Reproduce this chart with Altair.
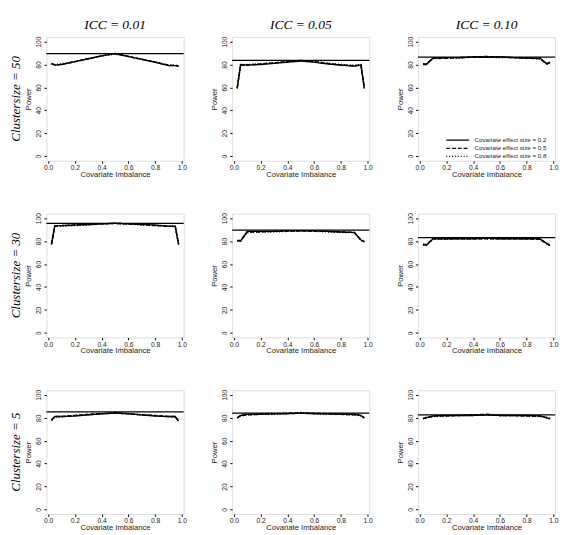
import altair as alt
import pandas as pd

X = [0.025, 0.05, 0.1, 0.2, 0.3, 0.4, 0.5, 0.6, 0.7, 0.8, 0.9, 0.95, 0.975]
EFFECTS = ["Covariate effect size = 0.2", "Covariate effect size = 0.5", "Covariate effect size = 0.8"]
ICC_LABELS = ["ICC = 0.01", "ICC = 0.05", "ICC = 0.10"]
CS_LABELS = ["Clustersize = 50", "Clustersize = 30", "Clustersize = 5"]

# power curves per panel: (cluster size row, icc column) -> [es0.2, es0.5, es0.8]
P11 = [[81, 79.5, 80, 82.5, 85, 87.5, 89.5, 87, 84.5, 82, 79, 79, 79],
       [80.5, 79.5, 80, 82.5, 85, 87.5, 89.5, 87, 84.5, 82, 79.5, 79, 78.5],
       [80.5, 80, 80.5, 82.5, 85, 87.5, 89, 87, 84.5, 82, 79.5, 79.5, 79]]
P12 = [[59, 79.5, 79.5, 80, 81, 82, 83, 82, 80.5, 79.5, 78.5, 79.5, 59],
       [59.5, 79.5, 79.5, 80.5, 81.5, 82.5, 83.5, 82.5, 81, 79.5, 79, 79.5, 59.5],
       [60, 80, 80, 80.5, 81.5, 82.5, 83.5, 82.5, 81, 80, 79, 80, 60]]
P13 = [[80, 80, 85.5, 86, 86, 86.5, 86.5, 86.5, 86, 85.5, 85.5, 80.5, 82],
       [80.5, 80.5, 85.5, 85.5, 86, 86.5, 87, 86.5, 86, 85.5, 85, 80.5, 81.5],
       [80.5, 80.5, 85, 85.5, 85.5, 86.5, 86.5, 86, 86, 85.5, 85, 81, 81.5]]
P21 = [[77, 93.5, 93.5, 94, 94.5, 95, 95.5, 95, 94.5, 94, 93, 93, 77],
       [77.5, 93, 93.5, 94, 94.5, 95, 95.5, 95, 94.5, 93.5, 93, 93, 77.5],
       [77.5, 93, 93, 93.5, 94, 95, 95.5, 95, 94, 93.5, 93, 92.5, 77]]
P22 = [[80.5, 80, 88.5, 88.5, 88.5, 89, 89, 89, 88.5, 88, 87.5, 81, 79.5],
       [80.5, 80.5, 88, 88, 88.5, 88.5, 89, 88.5, 88.5, 88, 87.5, 81, 79.5],
       [80, 80, 87.5, 88, 88, 88.5, 89, 88.5, 88, 87.5, 87.5, 80.5, 79]]
P23 = [[77, 76.5, 82, 82, 82, 82, 82.5, 82, 82, 82, 82, 78, 76],
       [77, 77, 82, 82, 82, 82, 82, 82, 82, 82, 81.5, 78, 76],
       [76.5, 76.5, 81.5, 81.5, 82, 82, 82, 82, 82, 81.5, 81.5, 77.5, 76]]
P31 = [[77.5, 81, 81, 81.5, 82.5, 83.5, 84, 83.5, 82.5, 81.5, 81, 81, 77],
       [78, 81, 81, 82, 83, 83.5, 84.5, 83.5, 82.5, 82, 81, 81, 77],
       [78, 80.5, 81, 82, 82.5, 83.5, 84, 83.5, 82.5, 82, 81, 80.5, 77.5]]
P32 = [[79.5, 82, 83, 83, 83.5, 83.5, 84, 83.5, 83.5, 83, 83, 82, 79.5],
       [80, 82, 82.5, 83, 83.5, 84, 84, 84, 83.5, 83, 82.5, 82, 80],
       [80, 81.5, 82.5, 83, 83, 83.5, 84.5, 83.5, 83, 83, 82.5, 81.5, 80]]
P33 = [[79, 80, 81.5, 82, 82, 82, 82.5, 82, 82, 82, 81.5, 80, 79],
       [79.5, 80, 81.5, 81.5, 82, 82.5, 83, 82, 82, 81.5, 81.5, 80, 79.5],
       [79, 80.5, 81, 81.5, 82, 82, 82.5, 82, 82, 81.5, 81, 80.5, 79]]

PANELS = [[P11, P12, P13], [P21, P22, P23], [P31, P32, P33]]
REF = [[89.5, 83.5, 86.5], [95.5, 89.5, 83.0], [85.0, 84.0, 82.5]]

rows = []
for r, cs in enumerate(CS_LABELS):
    for c, icc in enumerate(ICC_LABELS):
        for e, eff in enumerate(EFFECTS):
            for xv, pv in zip(X, PANELS[r][c][e]):
                rows.append({"cluster": cs, "icc": icc, "effect": eff,
                             "x": xv, "power": pv, "kind": "line"})
        rows.append({"cluster": cs, "icc": icc, "effect": EFFECTS[0],
                     "x": 0.5, "power": REF[r][c], "kind": "ref"})
df = pd.DataFrame(rows)

xscale = alt.Scale(domain=[-0.013, 1.013], nice=False, zero=False)
yscale = alt.Scale(domain=[-4, 104], nice=False, zero=False)

xaxis = alt.Axis(title="Covariate Imbalance", values=[0, 0.2, 0.4, 0.6, 0.8, 1.0],
                 format=".1f", grid=False, domain=False, tickSize=2.5, tickColor="black",
                 labelFontSize=7, labelPadding=0.5, titleFontSize=8, titlePadding=0,
                 labelColor="#222", titleColor="#222", titleFontWeight="normal",
                 labelFont="Liberation Sans", titleFont="Liberation Sans")
yaxis = alt.Axis(title="Power", values=[0, 20, 40, 60, 80, 100], grid=False, domain=False,
                 tickSize=2.5, tickColor="black", labelFontSize=7, labelAngle=-90,
                 labelAlign="center", labelBaseline="bottom", labelPadding=2.5,
                 titleFontSize=8, titlePadding=2.5, labelColor="#222", titleColor="#222",
                 titleFontWeight="normal", labelFont="Liberation Sans", titleFont="Liberation Sans")

lines = alt.Chart().transform_filter(alt.datum.kind == "line").mark_line(
    color="black", strokeWidth=1.5
).encode(
    x=alt.X("x:Q", scale=xscale, axis=xaxis),
    y=alt.Y("power:Q", scale=yscale, axis=yaxis),
    strokeDash=alt.StrokeDash("effect:N", scale=alt.Scale(domain=EFFECTS, range=[[1, 0], [4, 2], [1, 2]]),
                              legend=alt.Legend(title=None, orient="none", legendX=424, legendY=103,
                                                labelFontSize=6.5, labelFont="Liberation Sans",
                                                labelColor="#222", symbolType="M-3.4,0H3.4",
                                                symbolStrokeColor="black", symbolFillColor="transparent",
                                                symbolStrokeWidth=1.3,
                                                symbolSize=49, rowPadding=0.5, labelOffset=13,
                                                labelLimit=200)),
    order="x:Q",
)

rule = alt.Chart().transform_filter(alt.datum.kind == "ref").mark_rule(
    color="black", strokeWidth=1.3
).encode(y=alt.Y("power:Q", scale=yscale, axis=yaxis))

chart = alt.layer(lines, rule, data=df).properties(width=143, height=129).facet(
    row=alt.Row("cluster:N", sort=CS_LABELS,
                header=alt.Header(title=None, labelAngle=-90, labelOrient="left",
                                  labelFont="Liberation Serif", labelFontStyle="italic",
                                  labelFontSize=13.5, labelPadding=18.5, labelColor="black")),
    column=alt.Column("icc:N", sort=ICC_LABELS,
                      header=alt.Header(title=None, labelFont="Liberation Serif",
                                        labelFontStyle="italic", labelFontSize=14,
                                        labelPadding=5, labelColor="black")),
    spacing={"row": 55, "column": 50.5},
).resolve_axis(x="independent", y="independent").properties(
    bounds="flush", padding={"left": 0, "top": 0, "right": 0, "bottom": 0}
).configure_view(stroke="black", strokeWidth=1).configure(background="white")

chart.save("out.html", embed_options={"renderer": "svg", "actions": False})
